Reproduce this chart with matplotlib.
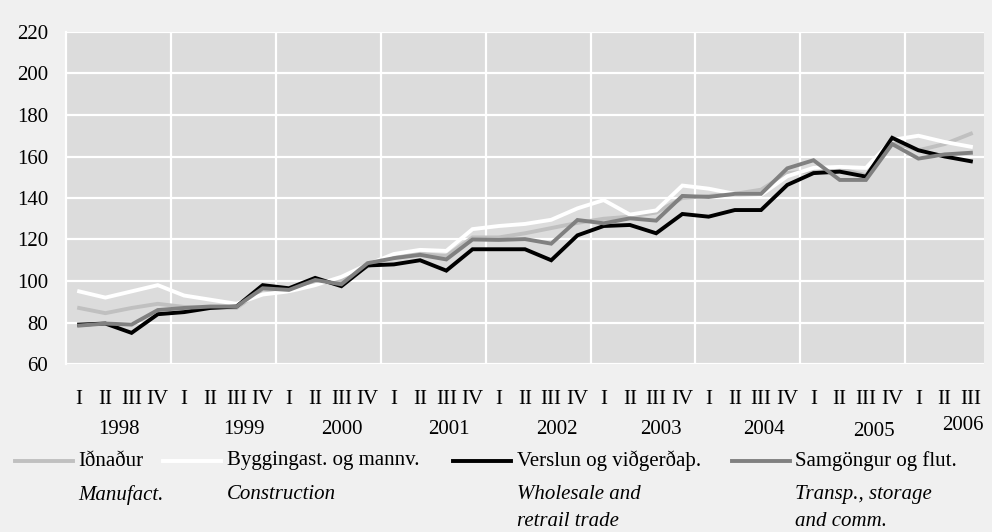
import matplotlib.pyplot as plt
import matplotlib.transforms as mtransforms
from matplotlib.lines import Line2D

# quarterly index, 1998 Q1 - 2006 Q3
quarters = ["I", "II", "III", "IV"] * 8 + ["I", "II", "III"]
years = ["1998", "1999", "2000", "2001", "2002", "2003", "2004", "2005", "2006"]

idnadur = [87, 84.5, 87, 89, 87.5, 87, 87, 96, 95, 99, 100, 107, 112, 113, 112, 121,
           121, 123, 125.5, 128, 130, 131, 133, 140, 141, 142, 144, 152, 153, 154, 151,
           167, 163, 166, 171]
byggingar = [95, 92, 95, 98, 93, 91, 89, 93.5, 95, 98, 102, 108, 113, 115, 114.5, 125,
             126.5, 127.5, 129.5, 135, 139, 132, 134, 146, 144.5, 142, 141.5, 150.5, 154.5,
             155, 154.5, 168, 170, 167, 164.7]
verslun = [79, 79.5, 75, 84, 85, 87, 87.7, 98, 96.5, 101.5, 97.5, 107.5, 108, 110, 105,
           115.3, 115.3, 115.3, 110, 122, 126.5, 127, 123, 132.3, 131, 134.2, 134.2, 146.3,
           152, 152.7, 150.3, 169, 163, 160, 157.7]
samgongur = [78.5, 79.5, 79, 86, 87, 87.7, 87.7, 96.5, 95.7, 100.5, 98.4, 108.6, 111,
             112.6, 110.4, 120, 119.8, 120.2, 118, 129.4, 127.8, 130.2, 129.1, 141, 140.5,
             142, 142, 154.3, 158.2, 148.7, 148.7, 166, 159, 161, 161.8]

names_is = ["Iðnaður", "Byggingast. og mannv.", "Verslun og viðgerðaþ.", "Samgöngur og flut."]
names_en = ["Manufact.", "Construction", "Wholesale and\nretrail trade", "Transp., storage\nand comm."]
series = [idnadur, byggingar, verslun, samgongur]
colors = ["#c0c0c0", "#ffffff", "#000000", "#808080"]

plt.rcParams['font.family'] = ['Liberation Serif', 'DejaVu Serif']
W, H = 992, 532
fs = 15
fig = plt.figure(figsize=(W / 100, H / 100), dpi=100, facecolor="#f0f0f0")
ax = fig.add_axes([66 / W, 1 - 364 / H, (984 - 66) / W, (364 - 32) / H])
ax.set_facecolor("#dcdcdc")

x = list(range(len(quarters)))
for vals, c in zip(series, colors):
    ax.plot(x, vals, color=c, lw=2.8, solid_joinstyle="miter", zorder=3)

ax.set_xlim(-0.5, len(quarters) - 0.5)
ax.set_ylim(60, 220)
ax.set_yticks(range(60, 221, 20))
ax.yaxis.grid(True, color="white", lw=1.6)
for b in range(4, len(quarters), 4):
    ax.axvline(b - 0.5, color="white", lw=1.6, zorder=1)
ax.set_axisbelow(True)

ax.set_xticks(x)
ax.set_xticklabels(quarters)
ax.tick_params(length=0, labelsize=fs)
ax.tick_params(axis="x", pad=19)
ax.tick_params(axis="y", pad=13)
for s in ["top", "right", "bottom"]:
    ax.spines[s].set_visible(False)
ax.spines["left"].set_color("white")
ax.spines["left"].set_linewidth(1.6)

# year labels under the quarter labels
tr = mtransforms.blended_transform_factory(ax.transData, fig.transFigure)
year_x = [1.5, 6.3, 10, 14.1, 18.2, 22.2, 26.1, 30.3, 33.7]
year_y = [430, 430, 430, 430, 430, 430, 430, 432, 426]
for lab, xp, yp in zip(years, year_x, year_y):
    ax.text(xp, 1 - yp / H, lab, transform=tr, ha="center", va="center", fontsize=fs)

# legend drawn by hand
line_x = [15, 163, 453, 732]
text_x = [78, 227, 517, 795]
for nm, en, c, lx, tx in zip(names_is, names_en, colors, line_x, text_x):
    fig.add_artist(Line2D([lx / W, (lx + 58) / W], [1 - 461 / H] * 2, color=c, lw=2.8,
                          transform=fig.transFigure))
    fig.text(tx / W, 1 - 461 / H, nm, ha="left", va="center", fontsize=fs)
    fig.text(tx / W, 1 - 485 / H, en, ha="left", va="top", fontsize=fs, style="italic",
             linespacing=1.6)

fig.savefig("out.png", dpi=100, facecolor=fig.get_facecolor())
